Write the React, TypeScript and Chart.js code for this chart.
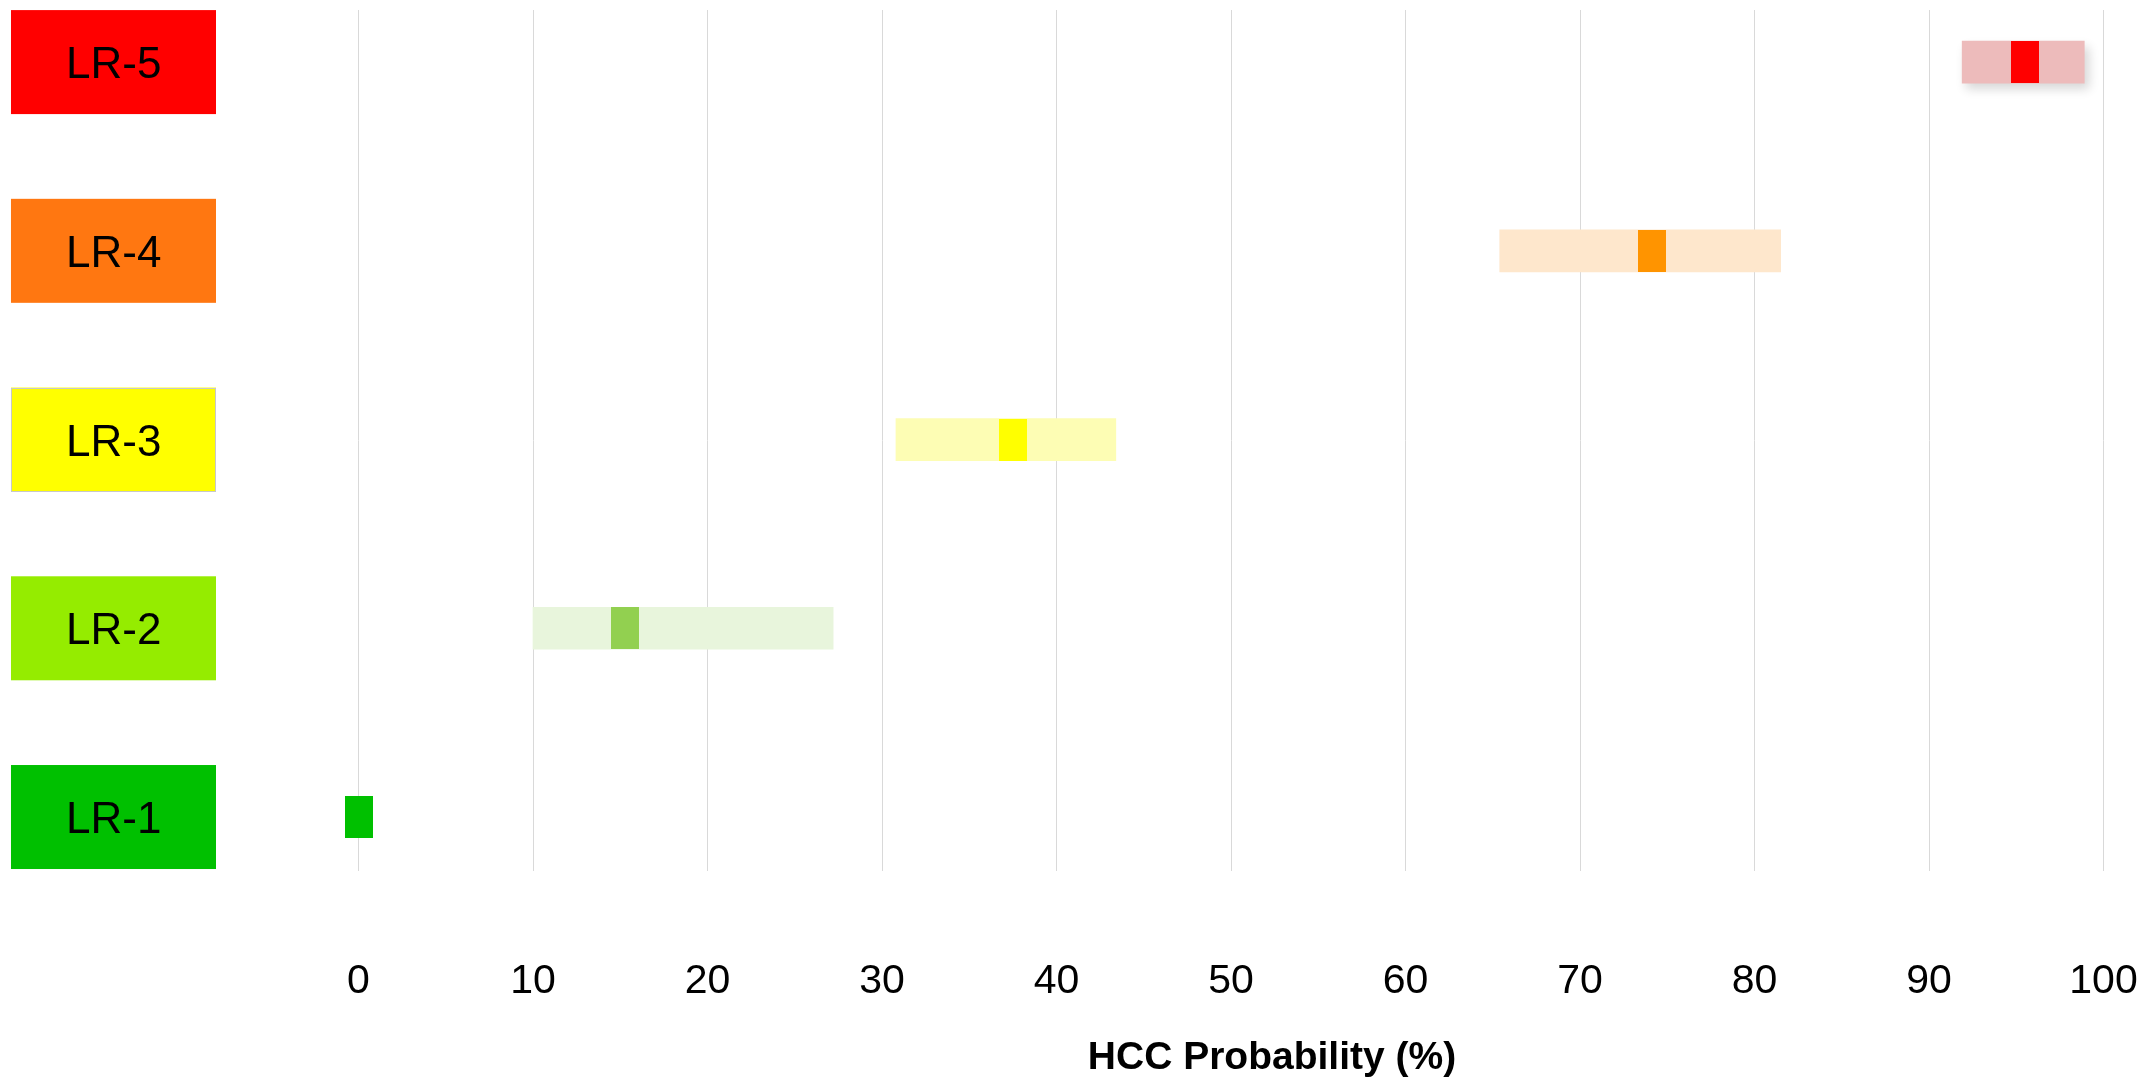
import React, { useEffect, useRef } from 'react';
import { Chart, registerables } from 'chart.js';

Chart.register(...registerables);

// ---- data ----
const categories = ['LR-1', 'LR-2', 'LR-3', 'LR-4', 'LR-5'];
const estimates = [0, 15.3, 37.5, 74.1, 95.5];
const ciLow: (number | null)[] = [null, 10.0, 30.8, 65.4, 91.9];
const ciHigh: (number | null)[] = [null, 27.2, 43.4, 81.5, 98.9];
const xTickValues = [0, 10, 20, 30, 40, 50, 60, 70, 80, 90, 100];
const axisTitle = 'HCC Probability (%)';

// ---- styles ----
const labelColors = ['#00C000', '#95EC00', '#FFFF00', '#FF7711', '#FF0000'];
const rangeColors = ['#CCF2CC', '#E8F5DC', '#FDFDB4', '#FEE7CC', '#EDBBBB'];
const markerColors = ['#00C000', '#92D050', '#FFFF00', '#FF9400', '#FF0000'];
const FONT = '"Liberation Sans", Arial, Helvetica, sans-serif';

// y range (category index units) and the small downward nudge of label text
const Y_MIN = 0.714;
const Y_MAX = 5.276;
const LABEL_NUDGE = 4 / 188.75; // 4px expressed in y units

const barShadowPlugin = {
  id: 'barShadow',
  beforeDatasetDraw(chart: any, args: any) {
    if (args.index !== 0) return;
    const ctx = chart.ctx;
    args.meta.data.forEach((el: any, i: number) => {
      if (ciLow[i] == null || ciHigh[i] == null) return;
      ctx.save();
      if (categories[i] === 'LR-5') {
        ctx.shadowColor = 'rgba(0,0,0,0.16)';
        ctx.shadowBlur = 10;
        ctx.shadowOffsetX = 4;
        ctx.shadowOffsetY = 6;
      }
      el.draw(ctx, chart.chartArea);
      ctx.restore();
    });
    return false;
  },
};

const decorPlugin = {
  id: 'decor',
  afterDraw(chart: any) {
    const ctx = chart.ctx;
    const yScale = chart.scales.y;
    // thin border around the LR-3 label box
    const y3 = yScale.getPixelForValue(categories.indexOf('LR-3') + 1);
    ctx.save();
    ctx.strokeStyle = '#c8c8c8';
    ctx.lineWidth = 1;
    ctx.strokeRect(11.5, Math.round(y3) - 52 + 0.5, 204, 103);
    // x axis title
    const area = chart.chartArea;
    ctx.font = `bold 39px ${FONT}`;
    ctx.fillStyle = '#000';
    ctx.textAlign = 'center';
    ctx.textBaseline = 'middle';
    ctx.fillText(axisTitle, (area.left + area.right) / 2 + 41, 1058);
    ctx.restore();
  },
};

export default function App() {
  const ref = useRef<HTMLCanvasElement>(null);

  useEffect(() => {
    const canvas = ref.current!;
    const markers = markerColors.map((c) => {
      const m = document.createElement('canvas');
      m.width = 28;
      m.height = 42;
      const g = m.getContext('2d')!;
      g.fillStyle = c;
      g.fillRect(0, 0, 28, 42);
      return m;
    });

    const chart = new Chart(canvas, {
      type: 'bar',
      data: {
        datasets: [
          {
            type: 'bar',
            indexAxis: 'y',
            order: 2,
            yAxisID: 'y',
            data: categories.map((_, i) => ({
              y: i + 1,
              x: ciLow[i] == null ? null : [ciLow[i], ciHigh[i]],
            })) as any,
            backgroundColor: rangeColors,
            borderWidth: 0,
            barThickness: 42,
          } as any,
          {
            type: 'scatter',
            order: 1,
            yAxisID: 'y',
            data: categories.map((_, i) => ({ x: estimates[i], y: i + 1 })),
            pointStyle: markers as any,
            pointRadius: 3,
            pointHoverRadius: 3,
            clip: false,
          } as any,
        ],
      },
      options: {
        animation: false,
        responsive: true,
        maintainAspectRatio: false,
        devicePixelRatio: 1,
        indexAxis: 'y',
        layout: { padding: { left: 0, top: 10, right: 41.5, bottom: 0 } },
        plugins: {
          legend: { display: false },
          tooltip: { enabled: false },
        },
        scales: {
          x: {
            type: 'linear',
            position: 'bottom',
            min: 0,
            max: 100,
            offset: false,
            afterBuildTicks: (scale: any) => {
              scale.ticks = xTickValues.map((v) => ({ value: v }));
            },
            afterFit: (scale: any) => {
              scale.height = 210;
              scale.paddingLeft = 0;
              scale.paddingRight = 0;
            },
            grid: { color: '#d9d9d9', lineWidth: 1, drawTicks: false, offset: false },
            border: { display: false },
            ticks: {
              color: '#000',
              font: { family: FONT, size: 41 },
              padding: 86,
              maxRotation: 0,
              autoSkip: false,
            },
          },
          y: {
            type: 'linear',
            position: 'left',
            display: false,
            min: Y_MIN,
            max: Y_MAX,
            offset: false,
            afterFit: (scale: any) => {
              scale.paddingTop = 0;
              scale.paddingBottom = 0;
            },
            grid: { display: false, offset: false },
          },
          yLabels: {
            type: 'linear',
            position: 'left',
            min: Y_MIN + LABEL_NUDGE,
            max: Y_MAX + LABEL_NUDGE,
            offset: false,
            afterBuildTicks: (scale: any) => {
              scale.ticks = categories.map((_, i) => ({ value: i + 1 }));
            },
            afterFit: (scale: any) => {
              scale.width = 358.5;
              scale.paddingTop = 0;
              scale.paddingBottom = 0;
            },
            grid: { display: false, drawTicks: false, offset: false },
            border: { display: false },
            ticks: {
              color: '#000',
              font: { family: FONT, size: 44 },
              padding: 197.15,
              crossAlign: 'near',
              autoSkip: false,
              callback: (v: any) => categories[Math.round(Number(v)) - 1],
              showLabelBackdrop: true,
              backdropColor: (ctx: any) => labelColors[ctx.index],
              backdropPadding: { left: 55, right: 54.65, top: 29.6, bottom: 21.6 },
            } as any,
          },
        },
      } as any,
      plugins: [barShadowPlugin, decorPlugin],
    });

    return () => chart.destroy();
  }, []);

  return (
    <div
      style={{
        position: 'absolute',
        left: 0,
        top: 0,
        width: 2145,
        height: 1081,
        background: '#fff',
      }}
    >
      <canvas ref={ref} />
    </div>
  );
}
